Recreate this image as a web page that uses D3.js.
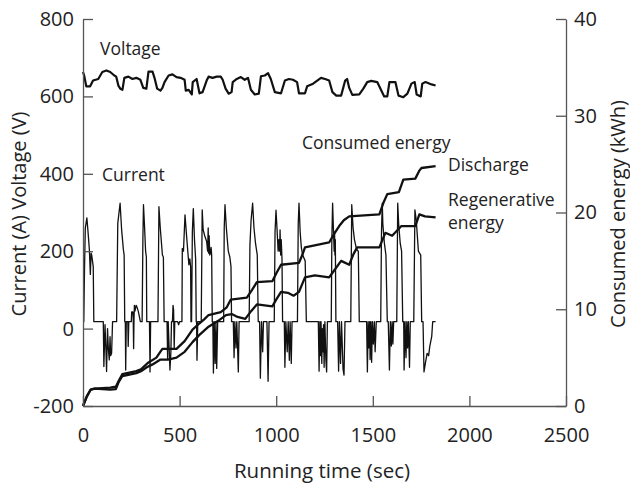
<!DOCTYPE html>
<html><head><meta charset="utf-8">
<script src="https://cdn.jsdelivr.net/npm/d3@7"></script>
<style>body{margin:0;background:#fff}text{font-family:"Open Sans",sans-serif;fill:#222}</style>
</head><body><svg id="c" width="630" height="484"></svg>
<script>
const xTicks=[0,500,1000,1500,2000,2500];
const leftTicks=[-200,0,200,400,600,800];
const rightTicks=[0,10,20,30,40];

const voltageT=[0,6,17,37,52,79,100,121,141,162,172,183,193,204,214,235,256,276,297,312,328,339,360,370,384,401,411,422,443,463,484,505,526,532,547,563,568,588,603,619,640,650,671,692,713,723,738,754,769,775,796,817,837,854,869,889,910,921,941,958,972,993,1025,1045,1066,1087,1108,1118,1149,1160,1191,1232,1253,1274,1291,1311,1336,1357,1367,1378,1394,1430,1451,1471,1492,1523,1544,1559,1575,1586,1617,1633,1658,1679,1700,1717,1727,1748,1756,1773,1804,1825];
const voltageV=[663,654,626,626,641,645,663,667,663,654,651,628,620,617,648,651,645,648,643,622,620,664,664,648,620,615,622,637,654,657,650,648,643,615,617,605,637,645,608,611,641,651,648,651,651,643,620,607,611,637,645,650,643,648,617,605,607,652,654,660,645,611,608,641,645,643,637,608,608,626,633,648,645,641,611,602,602,641,645,622,604,605,620,637,640,637,615,600,600,637,637,602,598,607,633,637,605,600,633,637,631,628];

const currentT=[0,4,8,12,20,26,33,38,42,45,53,56,105,108,114,119,122,127,131,136,140,143,148,153,174,180,192,200,209,213,216,219,221,224,232,234,237,250,252,258,260,262,264,266,269,275,280,286,292,297,306,310,313,318,324,328,330,344,347,350,388,393,400,411,416,420,435,438,441,450,455,458,463,466,469,472,475,490,495,500,512,514,520,528,536,548,553,557,559,562,566,571,577,583,586,588,590,594,612,617,622,630,640,645,648,650,653,656,660,663,666,669,672,675,679,684,688,692,697,728,731,735,742,752,760,766,769,778,782,786,792,796,804,808,860,864,870,878,885,893,902,907,914,918,924,930,934,952,958,963,990,994,999,1004,1010,1014,1018,1020,1023,1026,1030,1033,1042,1045,1050,1057,1062,1068,1072,1078,1082,1110,1114,1118,1124,1130,1137,1150,1156,1218,1222,1226,1229,1232,1236,1239,1242,1245,1248,1252,1257,1261,1265,1285,1288,1292,1296,1300,1302,1304,1306,1309,1318,1323,1327,1333,1338,1346,1351,1356,1386,1391,1398,1405,1416,1425,1430,1468,1472,1476,1480,1484,1486,1490,1494,1498,1503,1508,1512,1518,1541,1545,1549,1552,1560,1568,1575,1580,1586,1591,1596,1600,1604,1608,1624,1629,1634,1642,1649,1655,1660,1662,1667,1672,1676,1680,1684,1690,1694,1712,1718,1725,1736,1748,1753,1760,1765,1772,1781,1789,1795,1805,1810,1825];
const currentI=[18,18,160,260,286,250,204,140,195,190,160,18,18,-98,10,-60,-111,0,-50,-81,-21,-70,-64,18,18,272,324,255,204,190,18,18,-107,18,18,-46,18,18,43,43,25,-52,25,60,45,60,55,45,30,18,18,230,320,270,200,185,18,18,-112,18,18,315,260,190,185,18,18,-80,18,-107,-60,18,18,60,47,-50,18,18,10,18,18,207,200,294,240,165,180,160,18,18,250,310,230,180,18,18,-82,18,18,307,255,240,225,200,260,195,240,190,195,210,190,18,18,-115,18,-90,18,-103,18,18,260,320,260,200,185,160,18,18,-75,18,-50,18,-112,18,18,215,280,324,260,220,190,18,18,-128,18,-60,18,18,-136,18,18,250,306,260,200,230,200,255,190,230,180,18,18,-100,18,-60,18,-82,18,-90,18,18,270,324,250,210,190,175,18,18,-110,18,-70,18,-90,0,-60,10,-100,18,-80,-112,18,18,230,324,260,200,250,190,230,18,18,-110,18,-90,18,-105,-120,18,18,320,260,230,205,200,18,18,-112,18,-50,18,-80,18,-87,18,-40,18,-60,18,18,250,324,270,220,190,18,18,-107,18,-45,18,-40,18,18,324,270,220,200,18,18,-107,18,-75,18,-50,18,-100,18,18,307,280,200,190,18,18,-112,-90,-64,-70,-46,-20,18,18];

const dischargeT=[0,20,40,60,141,170,185,204,276,300,339,380,400,411,484,526,567,600,630,650,713,744,765,848,875,900,980,1000,1025,1118,1135,1149,1274,1300,1326,1350,1378,1534,1555,1575,1635,1658,1720,1740,1752,1825];
const dischargeE=[0,1.0,1.7,1.8,1.9,2.0,2.6,3.3,3.6,3.8,4.5,5.0,5.6,5.9,5.9,6.7,7.9,8.5,9.0,9.4,9.7,10.2,11.0,11.2,12.0,12.8,12.9,13.7,14.6,14.8,15.6,16.4,16.9,17.8,18.6,19.2,19.6,19.8,21.0,21.9,22.1,23.4,23.5,24.3,24.6,24.8];
const regenT=[0,20,40,60,141,170,185,204,276,300,330,360,401,440,484,526,567,600,650,700,740,770,800,840,870,900,940,980,1000,1025,1060,1090,1118,1149,1200,1274,1300,1336,1378,1400,1419,1534,1565,1600,1648,1720,1741,1770,1825];
const regenE=[0,1.0,1.7,1.8,1.7,1.75,2.5,3.1,3.4,3.6,4.0,4.3,4.8,4.8,5.0,5.6,6.6,7.3,8.2,8.8,9.4,9.5,9.2,9.0,9.8,10.5,10.4,10.3,11.0,11.8,11.7,11.4,11.8,13.3,13.5,13.3,14.0,15.0,14.6,15.7,16.4,16.4,17.9,17.6,18.6,18.6,19.8,19.6,19.5];

const svg=d3.select("#c");
const x=d3.scaleLinear([0,2500],[83,566]);
const yL=d3.scaleLinear([-200,800],[406,19]);
const yR=d3.scaleLinear([0,40],[406,19]);

const zip=(a,b)=>a.map((t,i)=>[t,b[i]]);
const lineL=d3.line().x(d=>x(d[0])).y(d=>yL(d[1]));
const lineR=d3.line().x(d=>x(d[0])).y(d=>yR(d[1]));

svg.append("path").attr("d",lineL(zip(currentT,currentI))).attr("fill","none").attr("stroke","#111").attr("stroke-width",1.3).attr("stroke-linejoin","round");
svg.append("path").attr("d",lineL(zip(voltageT,voltageV))).attr("fill","none").attr("stroke","#111").attr("stroke-width",2.2).attr("stroke-linejoin","round");
svg.append("path").attr("d",lineR(zip(dischargeT,dischargeE))).attr("fill","none").attr("stroke","#111").attr("stroke-width",2.3).attr("stroke-linejoin","round");
svg.append("path").attr("d",lineR(zip(regenT,regenE))).attr("fill","none").attr("stroke","#111").attr("stroke-width",2.3).attr("stroke-linejoin","round");

const fmt=d=>String(d);
function style(g,fs){g.selectAll("path,line").attr("stroke","#555").attr("stroke-width",1.3);g.selectAll("text").attr("font-size",fs).attr("fill","#222").attr("font-family","Open Sans, sans-serif");}
const gx=svg.append("g").attr("transform","translate(0,406)").call(d3.axisBottom(x).tickValues(xTicks).tickSize(-10).tickSizeOuter(0).tickPadding(22).tickFormat(fmt));
style(gx,20);
const gl=svg.append("g").attr("transform","translate(83,0)").call(d3.axisLeft(yL).tickValues(leftTicks).tickSize(-10).tickSizeOuter(0).tickPadding(9).tickFormat(fmt));
style(gl,20);
const gr=svg.append("g").attr("transform","translate(566,0)").call(d3.axisRight(yR).tickValues(rightTicks).tickSize(-10).tickSizeOuter(0).tickPadding(8).tickFormat(fmt));
style(gr,20);

svg.append("text").attr("x",322).attr("y",478).attr("text-anchor","middle").attr("font-size",20.5).text("Running time (sec)");
svg.append("text").attr("transform","translate(18,214) rotate(-90)").attr("text-anchor","middle").attr("dominant-baseline","central").attr("font-size",20).text("Current (A)  Voltage (V)");
svg.append("text").attr("transform","translate(617,214) rotate(-90)").attr("text-anchor","middle").attr("dominant-baseline","central").attr("font-size",20).text("Consumed energy (kWh)");

const ann=[["Voltage",100,55],["Current",102,181],["Consumed energy",302,149],["Discharge",448,171],["Regenerative",448,206],["energy",448,229]];
svg.selectAll("text.ann").data(ann).join("text").attr("class","ann").attr("x",d=>d[1]).attr("y",d=>d[2]).attr("font-size",17.5).text(d=>d[0]);
</script></body></html>
